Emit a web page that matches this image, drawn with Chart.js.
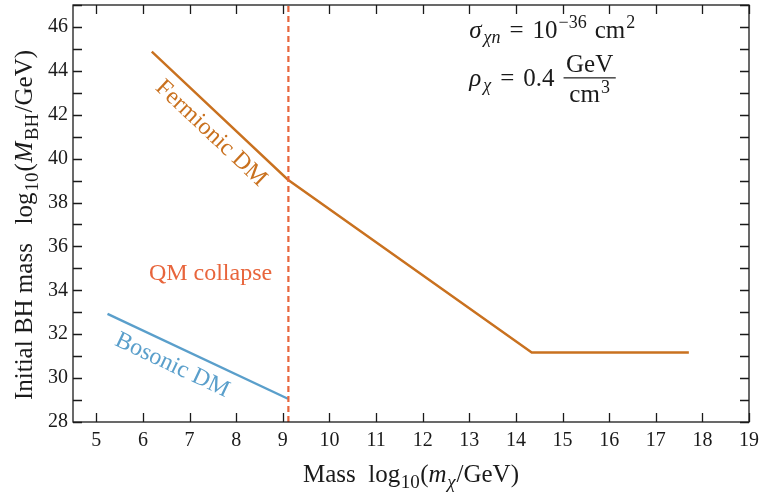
<!DOCTYPE html>
<html>
<head>
<meta charset="utf-8">
<script src="https://cdn.jsdelivr.net/npm/chart.js@4.4.1/dist/chart.umd.min.js"></script>
<style>
  html, body { margin: 0; padding: 0; background: #fff; }
  #wrap { width: 759px; height: 497px; }
</style>
</head>
<body>
<div id="wrap"><canvas id="c" width="759" height="497"></canvas></div>
<script>
// Dark-matter mass (log10 GeV) vs. initial black-hole mass (log10 GeV)
const bosonicMass   = [5.24, 9.11];
const bosonicBH     = [32.93, 29.06];
const fermionicMass = [6.19, 9.11, 14.34, 17.71];
const fermionicBH   = [44.88, 39.04, 31.17, 31.17];
const collapseMass  = 9.12;            // quantum-mechanical collapse threshold
const collapseSpan  = [28, 47];

const xTicks = [5, 6, 7, 8, 9, 10, 11, 12, 13, 14, 15, 16, 17, 18, 19];
const yTicks = [28, 30, 32, 34, 36, 38, 40, 42, 44, 46];
const xRange = [4.5, 19];
const yRange = [28, 47];

const SERIF = '"Liberation Serif", "Times New Roman", "DejaVu Serif", serif';
const ORANGE = '#c9711f';
const BLUE = '#5a9fcb';
const RED = '#e8653c';
const INK = '#1a1a1a';

const pts = (xs, ys) => xs.map((x, i) => ({ x, y: ys[i] }));

// draws a run of text pieces (regular / italic / sub / sup) starting at x
function richWidth(ctx, parts) {
  let w = 0;
  for (const p of parts) {
    ctx.font = (p.it ? 'italic ' : '') + p.size + 'px ' + SERIF;
    w += ctx.measureText(p.t).width + (p.gap || 0);
  }
  return w;
}
function drawRich(ctx, parts, x, y, align) {
  let cx = x;
  if (align === 'center') cx -= richWidth(ctx, parts) / 2;
  ctx.textBaseline = 'alphabetic';
  ctx.textAlign = 'left';
  for (const p of parts) {
    ctx.font = (p.it ? 'italic ' : '') + p.size + 'px ' + SERIF;
    ctx.fillText(p.t, cx, y + (p.dy || 0));
    cx += ctx.measureText(p.t).width + (p.gap || 0);
  }
  return cx;
}

const framePlugin = {
  id: 'frameAndText',
  afterDraw(chart) {
    const { ctx, chartArea: a, scales: { x, y } } = chart;
    ctx.save();
    // frame
    ctx.strokeStyle = INK;
    ctx.lineWidth = 1.3;
    ctx.strokeRect(a.left, a.top, a.right - a.left, a.bottom - a.top);
    // inward ticks on all four sides
    ctx.beginPath();
    for (const v of xTicks) {
      const px = Math.round(x.getPixelForValue(v)) + 0.5;
      ctx.moveTo(px, a.bottom); ctx.lineTo(px, a.bottom - 9);
      ctx.moveTo(px, a.top); ctx.lineTo(px, a.top + 9);
    }
    for (let v = yRange[0]; v <= yRange[1]; v++) {
      const py = Math.round(y.getPixelForValue(v)) + 0.5;
      ctx.moveTo(a.left, py); ctx.lineTo(a.left + 9, py);
      ctx.moveTo(a.right, py); ctx.lineTo(a.right - 9, py);
    }
    ctx.stroke();

    // axis titles
    ctx.fillStyle = INK;
    const T = 25, S = 19;
    drawRich(ctx, [
      { t: 'Mass  log', size: T, gap: 0.5 },
      { t: '10', size: S, dy: 6, gap: 0.5 },
      { t: '(', size: T },
      { t: 'm', size: T, it: true, gap: 0.5 },
      { t: 'χ', size: S, it: true, dy: 6, gap: 1 },
      { t: '/GeV)', size: T }
    ], (a.left + a.right) / 2, 482, 'center');

    ctx.save();
    ctx.translate(32, 225);
    ctx.rotate(-Math.PI / 2);
    drawRich(ctx, [
      { t: 'Initial BH mass   log', size: T, gap: 1 },
      { t: '10', size: S, dy: 6, gap: 1 },
      { t: '(', size: T, gap: 0.5 },
      { t: 'M', size: T, it: true, gap: 1.5 },
      { t: 'BH', size: S, dy: 6, gap: 1.5 },
      { t: '/GeV)', size: T }
    ], 0, 0, 'center');
    ctx.restore();

    // curve labels, rotated along their lines
    const angleOf = (xs, ys, i) => Math.atan2(
      y.getPixelForValue(ys[i + 1]) - y.getPixelForValue(ys[i]),
      x.getPixelForValue(xs[i + 1]) - x.getPixelForValue(xs[i]));
    const label = (txt, color, vx, vy, ang) => {
      ctx.save();
      ctx.translate(x.getPixelForValue(vx), y.getPixelForValue(vy));
      ctx.rotate(ang);
      ctx.fillStyle = color;
      ctx.font = '24px ' + SERIF;
      ctx.textAlign = 'center';
      ctx.textBaseline = 'middle';
      ctx.fillText(txt, 0, 0);
      ctx.restore();
    };
    label('Fermionic DM', ORANGE, 7.46, 41.15, angleOf(fermionicMass, fermionicBH, 0));
    label('Bosonic DM', BLUE, 6.63, 30.58, angleOf(bosonicMass, bosonicBH, 0));

    ctx.fillStyle = RED;
    ctx.font = '24px ' + SERIF;
    ctx.textAlign = 'center';
    ctx.textBaseline = 'alphabetic';
    ctx.fillText('QM collapse', x.getPixelForValue(7.45), y.getPixelForValue(34.48));

    // parameter box
    ctx.fillStyle = INK;
    const A = 25, B = 18;
    const ax = x.getPixelForValue(13.0);
    drawRich(ctx, [
      { t: 'σ', size: A, it: true, gap: 2 },
      { t: 'χn', size: B, it: true, dy: 5, gap: 9 },
      { t: '=', size: A, gap: 9 },
      { t: '10', size: A, gap: 1 },
      { t: '−36', size: B, dy: -10, gap: 8 },
      { t: 'cm', size: A, gap: 1 },
      { t: '2', size: B, dy: -10 }
    ], ax, y.getPixelForValue(45.51));
    const yb = y.getPixelForValue(43.32);
    const fx = drawRich(ctx, [
      { t: 'ρ', size: A, it: true, gap: 2 },
      { t: 'χ', size: B, it: true, dy: 5, gap: 9 },
      { t: '=', size: A, gap: 9 },
      { t: '0.4', size: A, gap: 9 }
    ], ax, yb);
    ctx.font = A + 'px ' + SERIF;
    const fw = ctx.measureText('GeV').width + 5;
    const fc = fx + fw / 2;
    ctx.textAlign = 'center';
    ctx.fillText('GeV', fc, yb - 14);
    ctx.fillRect(fx, yb - 8.5, fw, 1.2);
    ctx.textAlign = 'left';
    drawRich(ctx, [
      { t: 'cm', size: A, gap: 1 },
      { t: '3', size: B, dy: -9 }
    ], fc, yb + 16.5, 'center');
    ctx.restore();
  }
};

new Chart(document.getElementById('c'), {
  type: 'scatter',
  data: {
    datasets: [
      {
        label: 'QM collapse',
        data: pts([collapseMass, collapseMass], collapseSpan),
        showLine: true, borderColor: RED, borderWidth: 2.2,
        borderDash: [6, 4], pointRadius: 0, order: 0
      },
      {
        label: 'Fermionic DM',
        data: pts(fermionicMass, fermionicBH),
        showLine: true, borderColor: ORANGE, borderWidth: 2.4,
        pointRadius: 0, order: 1
      },
      {
        label: 'Bosonic DM',
        data: pts(bosonicMass, bosonicBH),
        showLine: true, borderColor: BLUE, borderWidth: 2.4,
        pointRadius: 0, order: 2
      }
    ]
  },
  options: {
    responsive: false,
    animation: false,
    devicePixelRatio: 1,
    layout: { padding: { top: 5, right: 10, left: 0, bottom: 0 } },
    plugins: { legend: { display: false }, tooltip: { enabled: false } },
    scales: {
      x: {
        type: 'linear', min: xRange[0], max: xRange[1],
        afterBuildTicks: s => { s.ticks = xTicks.map(v => ({ value: v })); },
        afterFit: s => { s.height = 75; s.paddingLeft = 0; s.paddingRight = 0; },
        grid: { display: false, drawTicks: false },
        border: { display: false },
        ticks: { padding: 7, color: INK, font: { family: SERIF, size: 20 } }
      },
      y: {
        type: 'linear', min: yRange[0], max: yRange[1],
        afterBuildTicks: s => { s.ticks = yTicks.map(v => ({ value: v })); },
        afterFit: s => { s.width = 73; s.paddingTop = 0; s.paddingBottom = 0; },
        grid: { display: false, drawTicks: false },
        border: { display: false },
        ticks: { padding: 5, color: INK, font: { family: SERIF, size: 20 } }
      }
    }
  },
  plugins: [framePlugin]
});
</script>
</body>
</html>
